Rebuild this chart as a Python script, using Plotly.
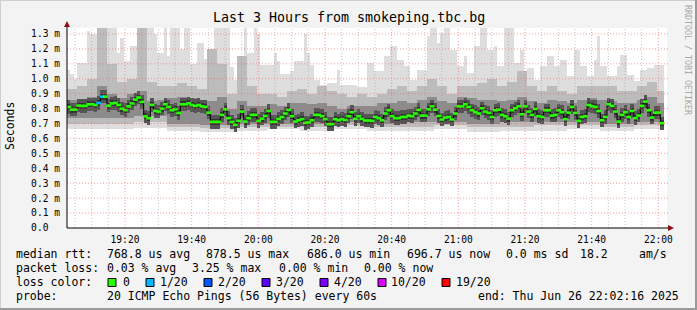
import numpy as np
import pandas as pd
import plotly.graph_objects as go

# ---------------- data (values in milliseconds) ----------------
START = "2025-06-26 19:02:36"
TICK0 = "2025-06-26 19:00:00"

median_ms = [
    0.811, 0.793, 0.793, 0.82, 0.818, 0.818, 0.829, 0.829, 0.824, 0.838,
    0.88, 0.88, 0.82, 0.835, 0.838, 0.824, 0.80, 0.79, 0.815, 0.835,
    0.86, 0.874, 0.845, 0.748, 0.736, 0.825, 0.785, 0.78, 0.80, 0.829,
    0.811, 0.789, 0.795, 0.771, 0.829, 0.829, 0.835, 0.824, 0.818, 0.824,
    0.815, 0.811, 0.773, 0.711, 0.711, 0.711, 0.758, 0.795, 0.736, 0.711,
    0.691, 0.718, 0.78, 0.713, 0.736, 0.758, 0.758, 0.718, 0.733, 0.751,
    0.784, 0.711, 0.711, 0.731, 0.744, 0.767, 0.791, 0.749, 0.713, 0.722,
    0.729, 0.704, 0.707, 0.722, 0.758, 0.758, 0.749, 0.729, 0.696, 0.696,
    0.729, 0.722, 0.729, 0.724, 0.749, 0.776, 0.731, 0.749, 0.731, 0.72,
    0.72, 0.718, 0.744, 0.736, 0.722, 0.767, 0.789, 0.749, 0.736, 0.736,
    0.744, 0.744, 0.753, 0.749, 0.767, 0.791, 0.753, 0.753, 0.795, 0.815,
    0.793, 0.751, 0.727, 0.74, 0.744, 0.727, 0.767, 0.815, 0.815, 0.829,
    0.811, 0.789, 0.776, 0.767, 0.802, 0.78, 0.771, 0.744, 0.789, 0.793,
    0.758, 0.749, 0.733, 0.789, 0.802, 0.815, 0.762, 0.815, 0.78, 0.758,
    0.798, 0.749, 0.744, 0.789, 0.789, 0.753, 0.758, 0.789, 0.776, 0.729,
    0.773, 0.811, 0.771, 0.718, 0.744, 0.749, 0.824, 0.815, 0.811, 0.784,
    0.722, 0.744, 0.829, 0.818, 0.78, 0.713, 0.758, 0.776, 0.744, 0.784,
    0.736, 0.753, 0.818, 0.847, 0.789, 0.74, 0.773, 0.773, 0.702,
]

loss_count = [0] * 9 + [1, 1] + [0] * 168

smoke_max_ms = [
    1.056, 1.03, 1.0, 1.107, 1.107, 1.107, 1.317, 1.30, 1.30, 1.34,
    1.34, 1.34, 1.34, 1.34, 1.34, 1.17, 1.27, 1.12, 1.12, 1.22,
    1.22, 1.34, 1.34, 0.993, 1.34, 1.34, 1.30, 1.17, 1.17, 1.34,
    1.15, 1.34, 1.34, 1.34, 1.2, 1.34, 1.34, 1.1, 1.1, 1.24,
    1.24, 1.13, 0.99, 0.99, 1.34, 1.34, 1.34, 1.34, 1.34, 1.08,
    0.99, 0.99, 0.99, 1.34, 1.17, 1.17, 1.34, 1.30, 1.09, 1.09,
    1.09, 1.09, 1.17, 1.12, 1.03, 1.03, 1.03, 1.05, 1.12, 1.12,
    1.12, 1.30, 1.17, 1.09, 0.99, 0.99, 0.96, 0.96, 0.97, 0.97,
    0.97, 1.06, 0.96, 0.96, 0.96, 0.96, 0.96, 0.948, 0.948, 0.948,
    1.107, 1.107, 1.05, 1.05, 1.05, 1.15, 1.15, 1.217, 1.217, 1.128,
    1.128, 1.083, 1.083, 0.993, 0.993, 1.06, 1.06, 1.06, 1.284, 1.34,
    1.34, 1.24, 1.307, 1.34, 1.34, 1.195, 1.195, 1.083, 1.083, 1.15,
    1.038, 1.038, 1.217, 1.217, 1.34, 1.34, 1.195, 1.195, 1.217, 1.083,
    1.083, 1.34, 1.34, 1.34, 1.105, 1.105, 1.195, 1.038, 1.072, 1.072,
    0.993, 0.993, 1.083, 1.083, 1.15, 1.15, 1.083, 1.083, 1.128, 1.128,
    1.016, 1.016, 1.195, 1.195, 1.083, 1.083, 1.016, 1.016, 1.128, 1.284,
    1.083, 1.083, 1.016, 1.016, 1.016, 1.083, 1.16, 1.16, 1.027, 1.027,
    0.982, 0.982, 1.06, 1.06, 1.072, 1.072, 1.094, 1.094, 1.094,
]

# upper edges of the middle smoke bands, one value per 3 minutes
smoke_upper2_3min = [
    0.93, 0.95, 1.0, 1.34, 1.1, 0.98, 1.0, 1.34, 0.98, 0.95,
    0.95, 0.97, 0.95, 0.93, 1.2, 1.1, 0.9, 1.15, 0.95, 0.9,
    0.9, 0.88, 0.92, 0.93, 0.9, 0.95, 0.92, 0.9, 0.88, 0.9,
    0.88, 0.9, 0.93, 0.95, 0.92, 0.95, 1.0, 0.95, 0.9, 0.95,
    0.95, 0.97, 1.0, 0.95, 0.98, 1.05, 0.95, 0.92, 0.95, 0.92,
    0.9, 0.95, 0.95, 0.95, 0.95, 0.92, 0.92, 0.95, 0.98, 0.92,
]
smoke_upper3_3min = [
    0.86, 0.86, 0.88, 0.95, 0.9, 0.87, 0.9, 0.92, 0.85, 0.86,
    0.87, 0.88, 0.87, 0.86, 0.85, 0.88, 0.8, 0.85, 0.82, 0.82,
    0.83, 0.82, 0.84, 0.84, 0.83, 0.84, 0.82, 0.8, 0.82, 0.82,
    0.82, 0.84, 0.84, 0.85, 0.84, 0.86, 0.88, 0.85, 0.84, 0.88,
    0.87, 0.86, 0.86, 0.85, 0.86, 0.88, 0.85, 0.84, 0.86, 0.85,
    0.84, 0.86, 0.87, 0.86, 0.85, 0.84, 0.84, 0.86, 0.88, 0.84,
]
# lower edges, one value per 10 minutes
smoke_min_10min = [0.66, 0.66, 0.67, 0.65, 0.64, 0.65, 0.66, 0.65, 0.66,
                   0.65, 0.65, 0.66, 0.64, 0.65, 0.65, 0.66, 0.65, 0.66]
smoke_lower2_10min = [0.70, 0.70, 0.71, 0.68, 0.67, 0.68, 0.68, 0.68, 0.69,
                      0.68, 0.68, 0.69, 0.68, 0.68, 0.69, 0.69, 0.68, 0.69]
smoke_lower3_10min = [0.74, 0.74, 0.75, 0.70, 0.69, 0.70, 0.70, 0.70, 0.71,
                      0.70, 0.71, 0.71, 0.70, 0.71, 0.71, 0.71, 0.70, 0.71]

y_tick_values = [0.0, 0.1, 0.2, 0.3, 0.4, 0.5, 0.6, 0.7, 0.8, 0.9, 1.0, 1.1, 1.2, 1.3]
y_tick_labels = ["0.0\u00a0\u00a0"] + [f"{v:.1f} m" for v in y_tick_values[1:]]

title_text = "Last 3 Hours from smokeping.tbc.bg"
rtt_label = "median rtt:"
rtt_stats = ["768.8 us avg", "878.5 us max", "686.0 us min", "696.7 us now",
             "0.0 ms sd", "18.2", "am/s"]
loss_label = "packet loss:"
loss_stats = ["0.03 % avg", "3.25 % max", "0.00 % min", "0.00 % now"]
color_label = "loss color:"
loss_legend_labels = ["0", "1/20", "2/20", "3/20", "4/20", "10/20", "19/20"]
loss_legend_counts = [0, 1, 2, 3, 4, 10, 19]
probe_label = "probe:"
probe_text = "20 ICMP Echo Pings (56 Bytes) every 60s"
end_text = "end: Thu Jun 26 22:02:16 2025"

# ---------------- styling ----------------
LOSS_COLORS = {0: "#26ff00", 1: "#00b8ff", 2: "#0059ff", 3: "#5e00ff",
               4: "#7e00ff", 10: "#dd00ff", 19: "#ff0000"}
MONO = "DejaVu Sans Mono"
W, H = 697, 310
ML, MR, MT, MB = 67, 30, 28, 82
PW, PH = W - ML - MR, H - MT - MB
Y_MAX = 1.34

def px(x):
    return (x - ML) / PW

def py(y):
    return (H - MB - y) / PH

N = len(median_ms)
times = pd.date_range(START, periods=N, freq="min")
med = np.array(median_ms)
mx = np.array(smoke_max_ms)
u2 = np.repeat(smoke_upper2_3min, 3)[:N]
u3 = np.repeat(smoke_upper3_3min, 3)[:N]
l1 = np.repeat(smoke_min_10min, 10)[:N]
l2 = np.repeat(smoke_lower2_10min, 10)[:N]
l3 = np.repeat(smoke_lower3_10min, 10)[:N]

fig = go.Figure()

def band(lower, upper, color):
    fig.add_trace(go.Bar(x=times, y=upper - lower, base=lower, width=60000,
                         offset=0, marker=dict(color=color, line=dict(width=0)),
                         hoverinfo="skip", showlegend=False))

band(l1, mx, "#dedede")
band(l2, u2, "#bcbcbc")
band(l3, u3, "#8c8c8c")
band(med - 0.045, med + 0.045, "#555555")
band(med - 0.02, med + 0.02, "#333333")

# median connector line
t_end = times[-1] + pd.Timedelta(minutes=1)
fig.add_trace(go.Scatter(x=list(times) + [t_end], y=list(med) + [med[-1]],
                         mode="lines", line=dict(color="#000000", width=1, shape="hv"),
                         hoverinfo="skip", showlegend=False))
# median marks coloured by loss
fig.add_trace(go.Scatter(x=times + pd.Timedelta(seconds=30), y=med, mode="markers",
                         marker=dict(symbol="line-ew", size=3.4,
                                     line=dict(width=2.6, color=[LOSS_COLORS[c] for c in loss_count])),
                         hoverinfo="skip", showlegend=False))

shapes = []
# grid above the smoke
t_start = pd.Timestamp(START)
t_stop = t_start + pd.Timedelta(minutes=180)
g = pd.Timestamp(TICK0)
while g <= t_stop:
    if g >= t_start:
        major = (g.minute % 20 == 0)
        shapes.append(dict(type="line", xref="x", yref="paper", x0=g, x1=g, y0=0, y1=1,
                           layer="above",
                           line=dict(color="rgba(255,80,80,0.55)" if major else "rgba(150,150,150,0.55)",
                                     width=1, dash="1px,2px")))
    g += pd.Timedelta(minutes=5)
for v in y_tick_values[1:]:
    shapes.append(dict(type="line", xref="paper", yref="y", x0=0, x1=1.005, y0=v, y1=v,
                       layer="above",
                       line=dict(color="rgba(255,80,80,0.55)", width=1, dash="1px,2px")))
# axes
shapes.append(dict(type="line", xref="paper", yref="paper", x0=0, x1=px(670), y0=0, y1=0,
                   line=dict(color="#000", width=1), layer="above"))
shapes.append(dict(type="line", xref="paper", yref="paper", x0=0, x1=0, y0=0, y1=py(24),
                   line=dict(color="#000", width=1), layer="above"))
# arrows
shapes.append(dict(type="path", xref="paper", yref="paper",
                   path=f"M {px(64)} {py(27)} L {px(70)} {py(27)} L {px(67)} {py(21)} Z",
                   fillcolor="#8b1010", line=dict(width=0), layer="above"))
shapes.append(dict(type="path", xref="paper", yref="paper",
                   path=f"M {px(668)} {py(225)} L {px(668)} {py(231)} L {px(674)} {py(228)} Z",
                   fillcolor="#8b1010", line=dict(width=0), layer="above"))
# frame
shapes.append(dict(type="line", xref="paper", yref="paper", x0=px(0), x1=px(W), y0=py(0.5), y1=py(0.5),
                   line=dict(color="#cfcfcf", width=1)))
shapes.append(dict(type="line", xref="paper", yref="paper", x0=px(0.5), x1=px(0.5), y0=py(0), y1=py(H),
                   line=dict(color="#cfcfcf", width=1)))
shapes.append(dict(type="line", xref="paper", yref="paper", x0=px(0), x1=px(W), y0=py(H - 1), y1=py(H - 1),
                   line=dict(color="#9a9a9a", width=2)))
shapes.append(dict(type="line", xref="paper", yref="paper", x0=px(W - 1), x1=px(W - 1), y0=py(0), y1=py(H),
                   line=dict(color="#9a9a9a", width=2)))

annotations = []

def text(x, y, s, size=11.5, anchor="left", color="#000", angle=0):
    annotations.append(dict(x=px(x), y=py(y), xref="paper", yref="paper", text=s,
                            showarrow=False, xanchor=anchor, yanchor="middle",
                            textangle=angle, borderpad=0, borderwidth=0,
                            font=dict(family=MONO, size=size, color=color)))

text(348.5, 18, title_text, size=13.3, anchor="center")
text(10, 126, "Seconds", size=11.5, anchor="center", angle=-90)
text(688, 60, "RRDTOOL / TOBI OETIKER", size=8.3, anchor="center", color="#a8a8a8", angle=90)

rtt_x = [107, 206, 307, 407, 506, 580, 639]
text(16, 254, rtt_label)
for s, x in zip(rtt_stats, rtt_x):
    text(x, 254, s)
loss_x = [107, 192, 279, 364]
text(16, 268, loss_label)
for s, x in zip(loss_stats, loss_x):
    text(x, 268, s)
text(16, 282, color_label)
sq_x = [108, 146, 204, 262, 320, 378, 442]
lab_x = [123, 160, 218, 276, 334, 391, 456]
for s, c, sx, lx in zip(loss_legend_labels, loss_legend_counts, sq_x, lab_x):
    shapes.append(dict(type="rect", xref="paper", yref="paper",
                       x0=px(sx), x1=px(sx + 8), y0=py(278.5), y1=py(286.5),
                       fillcolor=LOSS_COLORS[c], line=dict(color="#000", width=1)))
    text(lx, 282, s)
text(16, 296, probe_label)
text(107, 296, probe_text)
text(478, 296, end_text)

fig.update_layout(
    width=W, height=H,
    margin=dict(l=ML, r=MR, t=MT, b=MB, pad=0),
    paper_bgcolor="#f3f3f3", plot_bgcolor="#ffffff",
    barmode="overlay", bargap=0, showlegend=False,
    shapes=shapes, annotations=annotations,
    xaxis=dict(type="date", range=[t_start, t_stop], showgrid=False, zeroline=False,
               showline=False, tickformat="%H:%M", dtick=1200000, tick0=TICK0,
               ticks="", ticklabelstandoff=4,
               tickfont=dict(family=MONO, size=9.6, color="#000"), fixedrange=True),
    yaxis=dict(range=[0, Y_MAX], showgrid=False, zeroline=False, showline=False,
               tickvals=y_tick_values, ticktext=y_tick_labels, ticks="",
               ticklabelstandoff=6,
               tickfont=dict(family=MONO, size=9.6, color="#000"), fixedrange=True),
)

fig.write_html("out.html")
